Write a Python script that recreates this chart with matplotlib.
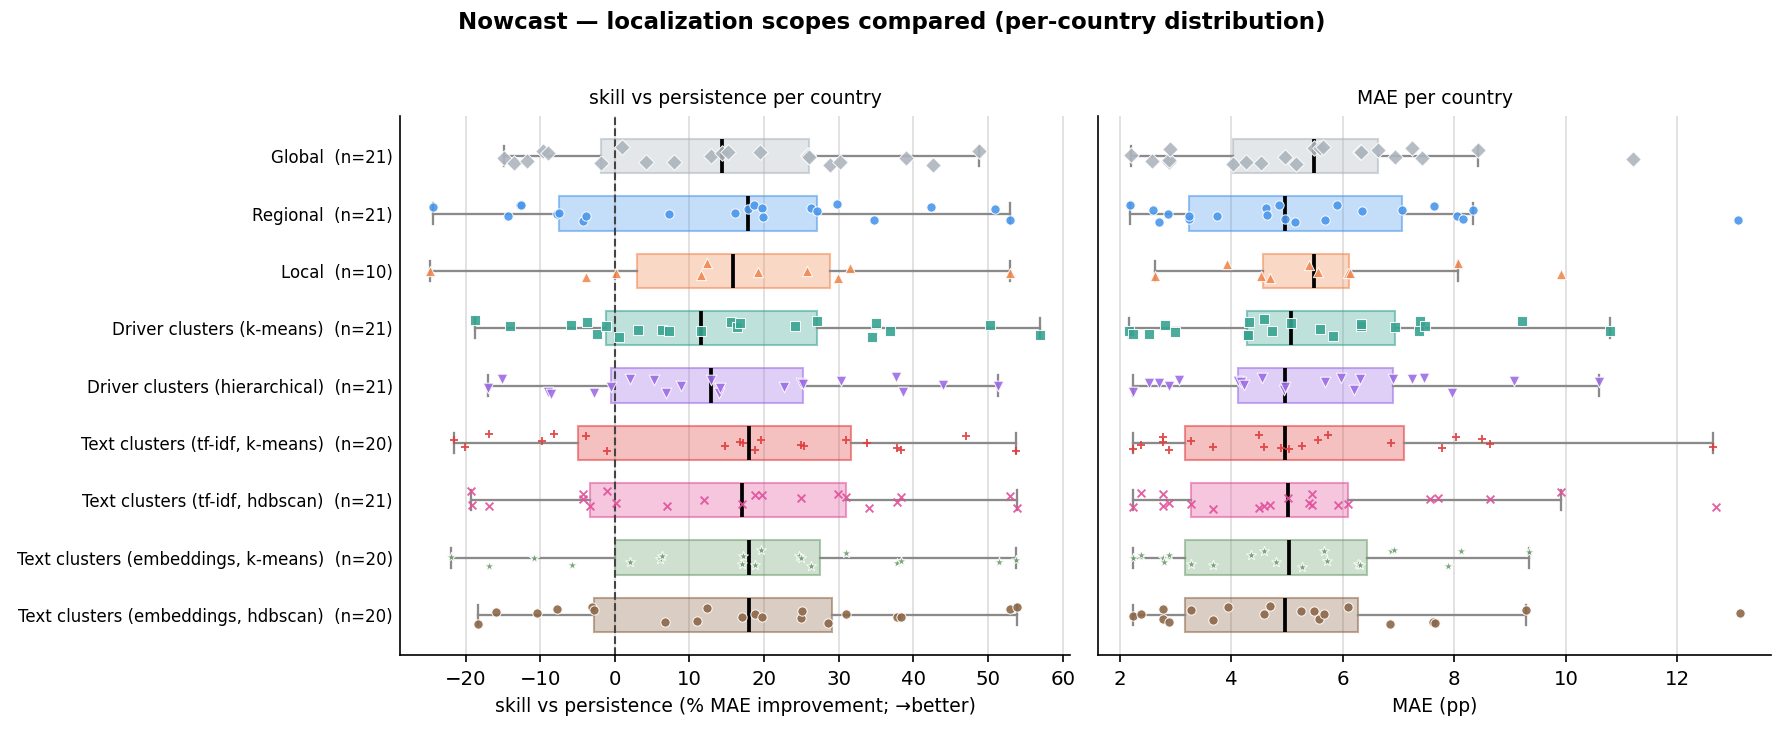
""" Nowcast localization scopes - per-country distribution (box + strip) """
import numpy as np
import matplotlib
matplotlib.use("Agg")
import matplotlib.pyplot as plt
from matplotlib.colors import to_rgba

# Scopes, top to bottom
scopes = ["Global", "Regional", "Local",
          "Driver clusters (k-means)", "Driver clusters (hierarchical)",
          "Text clusters (tf-idf, k-means)", "Text clusters (tf-idf, hdbscan)",
          "Text clusters (embeddings, k-means)", "Text clusters (embeddings, hdbscan)"]

# skill vs persistence (% MAE improvement), one value per country
skill_global = [-14.8, -13.5, -11.7, -9.6, -9.0, -1.9, 0.9, 4.2, 7.9, 12.9, 14.3,
                15.2, 19.4, 25.9, 25.9, 26.0, 28.8, 30.1, 39.0, 42.6, 48.8]
skill_regional = [-24.4, -14.3, -12.7, -12.6, -7.7, -7.5, -4.3, -3.9, 7.2, 16.1, 17.9,
                  18.7, 19.7, 19.8, 26.3, 27.1, 29.8, 34.7, 42.4, 50.9, 53.0]
skill_local = [-24.7, -3.8, 0.1, 11.6, 12.4, 19.2, 25.7, 29.9, 31.5, 53.0]
skill_drv_km = [-18.7, -14.1, -5.9, -3.7, -2.4, -1.2, 0.5, 3.1, 6.3, 7.3, 11.5,
                15.6, 16.3, 16.8, 24.2, 27.1, 34.4, 35.0, 36.9, 50.3, 56.9]
skill_drv_hc = [-17.0, -15.1, -8.9, -8.6, -2.8, -0.5, 2.1, 5.2, 6.8, 8.8, 12.9,
                13.9, 14.1, 22.6, 25.0, 25.2, 30.3, 37.7, 38.6, 43.9, 51.3]
skill_tfidf_km = [-21.6, -20.1, -16.8, -9.7, -8.2, -3.8, -1.1, 14.7, 16.8, 17.2,
                  18.8, 19.6, 25.0, 25.4, 31.0, 33.8, 37.8, 38.3, 47.0, 53.8]
skill_tfidf_hdb = [-19.3, -19.1, -16.8, -4.2, -4.2, -3.3, -1.1, 0.1, 7.0, 12.0, 17.1,
                   18.8, 19.7, 25.0, 29.9, 31.0, 34.0, 37.8, 38.4, 53.0, 53.9]
skill_emb_km = [-22.0, -16.9, -10.8, -10.8, -5.7, 2.0, 6.1, 6.3, 17.1, 17.2,
                18.8, 19.6, 24.7, 24.9, 26.3, 31.0, 37.8, 38.4, 51.4, 53.8]
skill_emb_hdb = [-18.3, -15.9, -10.4, -7.8, -3.0, -2.8, 6.7, 11.0, 12.4, 17.1,
                 18.8, 19.7, 25.0, 25.1, 28.5, 31.0, 37.8, 38.3, 53.0, 53.9]

# MAE (pp), one value per country
mae_global = [2.20, 2.57, 2.88, 2.88, 2.91, 4.04, 4.26, 4.53, 4.96, 5.17, 5.48,
              5.59, 5.64, 6.30, 6.32, 6.64, 6.93, 7.25, 7.42, 8.43, 11.20]
mae_regional = [2.19, 2.59, 2.71, 2.86, 3.25, 3.25, 3.75, 4.62, 4.65, 4.86, 4.96,
                5.14, 5.68, 5.89, 6.35, 7.07, 7.63, 8.05, 8.15, 8.34, 13.09]
mae_local = [2.64, 3.93, 4.54, 4.69, 5.39, 5.56, 6.09, 6.13, 8.07, 9.92]
mae_drv_km = [2.16, 2.23, 2.53, 2.82, 2.99, 4.29, 4.30, 4.31, 4.58, 4.73, 5.07,
              5.59, 5.82, 6.32, 6.32, 6.93, 7.36, 7.38, 7.48, 9.21, 10.79]
mae_drv_hc = [2.24, 2.52, 2.70, 2.88, 3.06, 4.13, 4.17, 4.22, 4.55, 4.94, 4.96,
              5.68, 5.96, 6.21, 6.31, 6.90, 7.25, 7.45, 7.96, 9.07, 10.59]
mae_tfidf_km = [2.24, 2.39, 2.77, 2.78, 2.88, 3.27, 3.68, 4.49, 4.58, 4.89,
                5.03, 5.27, 5.55, 5.74, 6.86, 7.78, 8.03, 8.50, 8.64, 12.64]
mae_tfidf_hdb = [2.24, 2.39, 2.77, 2.77, 2.88, 3.27, 3.68, 4.49, 4.58, 4.70, 5.01,
                 5.39, 5.44, 5.45, 5.91, 6.09, 7.56, 7.70, 8.64, 9.92, 12.69]
mae_emb_km = [2.24, 2.39, 2.78, 2.80, 2.88, 3.27, 3.68, 4.36, 4.58, 4.81,
              5.27, 5.67, 5.71, 6.28, 6.30, 6.86, 6.91, 7.88, 8.12, 9.34]
mae_emb_hdb = [2.24, 2.39, 2.77, 2.78, 2.88, 3.27, 3.68, 3.95, 4.58, 4.69,
               5.25, 5.49, 5.57, 5.67, 6.09, 6.85, 7.61, 7.65, 9.28, 13.13]

skill_data = [skill_global, skill_regional, skill_local, skill_drv_km, skill_drv_hc,
              skill_tfidf_km, skill_tfidf_hdb, skill_emb_km, skill_emb_hdb]
mae_data = [mae_global, mae_regional, mae_local, mae_drv_km, mae_drv_hc,
            mae_tfidf_km, mae_tfidf_hdb, mae_emb_km, mae_emb_hdb]

# Style per scope
colors = ["#adb5bd", "#4a97ec", "#f2874f", "#38a391", "#9c6ce6",
          "#e03c3c", "#e2509a", "#6f9f6f", "#8d6748"]
markers = ["D", "o", "^", "s", "v", "+", "x", "*", "o"]
sizes = [28, 20, 24, 22, 26, 18, 14, 24, 20]

pos = np.arange(len(scopes))
labels = [f"{s}  (n={len(v)})" for s, v in zip(scopes, skill_data)]

fig = plt.figure(figsize=(1784 / 150, 733 / 150), dpi=150)
ax1 = fig.add_axes([0.2242, 0.1064, 0.3756, 0.7353])
ax2 = fig.add_axes([0.6155, 0.1064, 0.3772, 0.7353], sharey=ax1)

rng = np.random.default_rng(7)  # vertical jitter of the strip points


def draw_panel(ax, data):
    bp = ax.boxplot(data, positions=pos, orientation="horizontal", widths=0.6,
                    whis=1.5, showfliers=False, patch_artist=True, capwidths=0.35,
                    medianprops=dict(color="black", linewidth=1.8),
                    whiskerprops=dict(color="#8a8a8a", linewidth=1.1),
                    capprops=dict(color="#8a8a8a", linewidth=1.1))
    for patch, c in zip(bp["boxes"], colors):
        patch.set_facecolor(to_rgba(c, 0.32))
        patch.set_edgecolor(to_rgba(c, 0.55))
        patch.set_linewidth(1.0)
    for i, vals in enumerate(data):
        y = pos[i] + rng.uniform(-0.16, 0.16, len(vals))
        if markers[i] in ("+", "x"):
            ax.scatter(vals, y, marker=markers[i], s=sizes[i], color=colors[i],
                       linewidths=0.9, alpha=0.9, zorder=3)
        else:
            ax.scatter(vals, y, marker=markers[i], s=sizes[i], color=colors[i],
                       edgecolors="white", linewidths=0.5, alpha=0.9, zorder=3)
    ax.grid(axis="x", color="#dddddd", linewidth=0.8)
    ax.set_axisbelow(True)
    for side in ("top", "right"):
        ax.spines[side].set_visible(False)
    ax.tick_params(axis="y", length=0)
    ax.tick_params(axis="x", labelsize=9.5)


draw_panel(ax1, skill_data)
draw_panel(ax2, mae_data)

ax1.axvline(0, color="#444444", linestyle="--", linewidth=1.0, zorder=2.5)

ax1.set_yticks(pos)
ax1.set_yticklabels(labels, fontsize=8)
ax2.tick_params(axis="y", labelleft=False)
ax1.set_ylim(8.7, -0.7)

ax1.set_title("skill vs persistence per country", fontsize=9)
ax2.set_title("MAE per country", fontsize=9)
ax1.set_xlabel("skill vs persistence (% MAE improvement; \u2192better)", fontsize=9)
ax2.set_xlabel("MAE (pp)", fontsize=9)

fig.suptitle("Nowcast \u2014 localization scopes compared (per-country distribution)",
             fontsize=11, fontweight="bold", y=0.985)

plt.savefig("out.png", dpi=150)
